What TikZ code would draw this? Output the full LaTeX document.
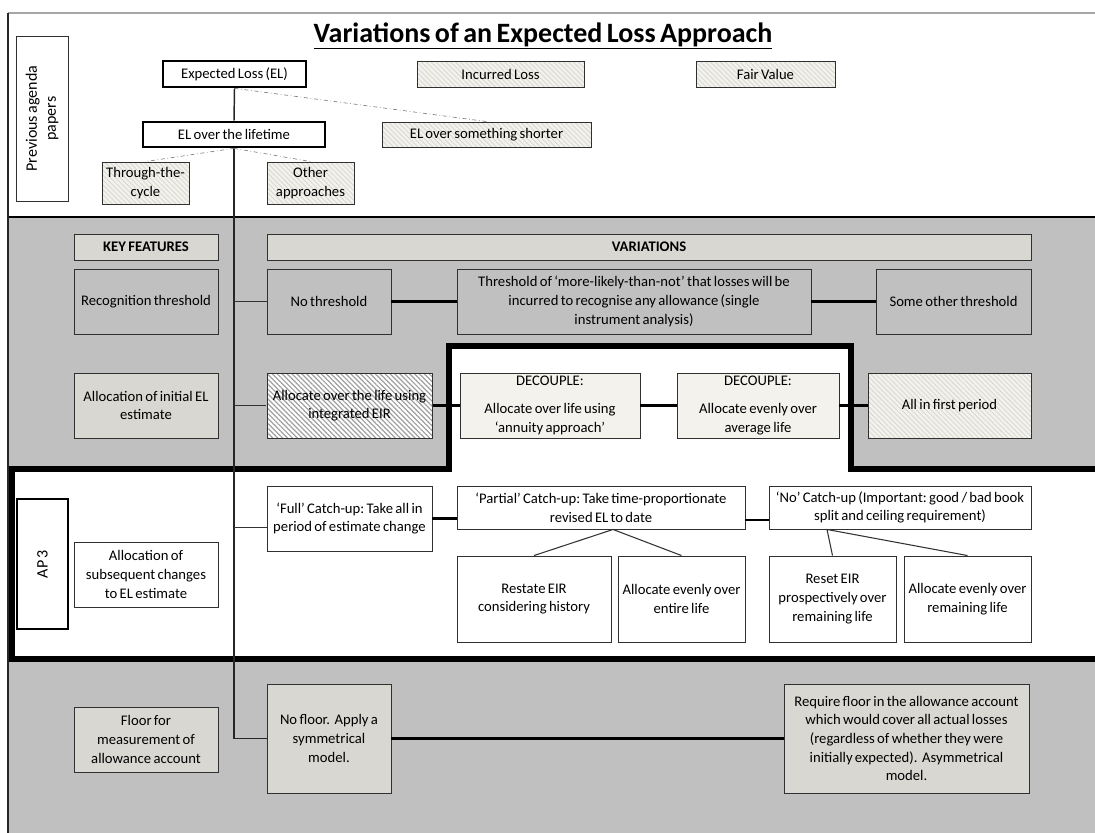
\documentclass[tikz,border=0pt]{standalone}
\usepackage{fontspec}
\setmainfont{Carlito}[WordSpace=0.7]
\usetikzlibrary{positioning,patterns.meta,calc}
\definecolor{bandGray}{HTML}{C0C0C0}
\definecolor{cardFill}{HTML}{D8D7D2}
\definecolor{hatchBack}{HTML}{F3F2ED}
\definecolor{hatchLine}{HTML}{DAD9D3}
\definecolor{edgeGray}{HTML}{303030}

\begin{document}
\begin{tikzpicture}[x=0.75pt, y=-0.75pt,
    baseBox/.style={rectangle, draw=edgeGray, line width=0.7pt, align=center, inner xsep=1pt, inner ysep=2pt, font=\fontsize{11}{14}\selectfont\frenchspacing},
    cardBox/.style={baseBox, fill=cardFill},
    greyBox/.style={baseBox, fill=bandGray},
    whiteBox/.style={baseBox, fill=white},
    hatchBox/.style={baseBox, preaction={fill=hatchBack}, pattern={Lines[angle=-45, distance=2.6pt, line width=0.7pt]}, pattern color=hatchLine},
    denseHatch/.style={baseBox, preaction={fill=white}, pattern={Lines[angle=-45, distance=2.6pt, line width=0.9pt]}, pattern color=gray!75},
    heavyBox/.style={whiteBox, draw=black, line width=2pt},
    spineLine/.style={draw=black!85, line width=1.1pt},
    branchLine/.style={draw=black!80, line width=0.8pt},
    linkLine/.style={draw=black, line width=1.6pt},
    optLine/.style={draw=gray, line width=0.5pt, dash dot}
]
    \useasboundingbox (0,0) rectangle (1095,832);
    \clip (0,0) rectangle (1095,832);

    % Bands
    \fill[bandGray] (8,217) rectangle (1110,469);
    \fill[bandGray] (8,659) rectangle (1110,840);
    \draw[line width=4.5pt, fill=white] (12,469) -- (449,469) -- (449,346) -- (851,346) -- (851,469) -- (1110,469) -- (1110,659) -- (12,659) -- cycle;
    \draw[line width=2.2pt] (8,217) -- (1110,217);
    \draw[gray!70, line width=0.8pt] (8,13) -- (1110,13);
    \draw[black!85, line width=0.8pt] (8,13) -- (8,840);

    \node (title) at (543,36) {\fontsize{21}{24}\selectfont\bfseries\underline{Variations of an Expected Loss Approach}};

    % Previous agenda papers
    \node[whiteBox, rotate=90, minimum width=123.75pt, minimum height=39pt, font=\fontsize{12}{14.25}\selectfont] (prevPapers) at (42,118.5) {Previous agenda\\papers};
    \node[heavyBox, minimum width=107.25pt, minimum height=19.5pt] (elNode) at (234.5,74) {Expected Loss (EL)};
    \node[hatchBox, minimum width=125.25pt, minimum height=19.5pt] (incurred) at (500.5,74) {Incurred Loss};
    \node[hatchBox, minimum width=104.25pt, minimum height=19.5pt] (fairValue) at (765.5,74) {Fair Value};
    \node[heavyBox, minimum width=136.5pt, minimum height=18.75pt] (lifetime) at (234,134.5) {EL over the lifetime};
    \node[hatchBox, minimum width=156.75pt, minimum height=18.75pt] (shorter) at (486.5,134.5) {EL over something shorter};
    \node[hatchBox, minimum width=65.25pt, minimum height=31.5pt] (cycle) at (145.5,183) {Through-the-\\cycle};
    \node[hatchBox, minimum width=65.25pt, minimum height=31.5pt] (otherAppr) at (310.5,183) {Other\\approaches};

    % Key features and variations
    \node[cardBox, minimum width=108pt, minimum height=19.5pt, font=\fontsize{11}{14}\selectfont\bfseries] (keyFeat) at (146,247) {KEY FEATURES};
    \node[cardBox, minimum width=573pt, minimum height=19.5pt, font=\fontsize{11}{14}\selectfont\bfseries] (variations) at (649,247) {VARIATIONS};

    \node[greyBox, minimum width=108pt, minimum height=48.75pt] (recog) at (146,301.5) {Recognition threshold};
    \node[greyBox, minimum width=93pt, minimum height=48.75pt] (noThresh) at (329,301.5) {No threshold};
    \node[greyBox, minimum width=265.5pt, minimum height=48.75pt] (mltn) at (634,301.5) {Threshold of `more-likely-than-not' that losses will be\\incurred to recognise any allowance (single\\instrument analysis)};
    \node[greyBox, minimum width=116.25pt, minimum height=48.75pt] (otherThresh) at (953.5,301.5) {Some other threshold};

    \node[cardBox, minimum width=108pt, minimum height=48.75pt] (allocInit) at (146,405.5) {Allocation of initial EL\\estimate};
    \node[denseHatch, minimum width=123.75pt, minimum height=48.75pt, inner xsep=0pt] (integEIR) at (349.5,405.5) {Allocate over the life using\\integrated EIR};
    \node[cardBox, fill=hatchBack, minimum width=135pt, minimum height=48.75pt] (annuity) at (550,405.5) {DECOUPLE:\\[7pt]Allocate over life using\\`annuity approach'};
    \node[cardBox, fill=hatchBack, minimum width=121.5pt, minimum height=48.75pt] (evenAvg) at (758,405.5) {DECOUPLE:\\[7pt]Allocate evenly over\\average life};
    \node[hatchBox, minimum width=122.25pt, minimum height=48.75pt] (firstPeriod) at (949.5,405.5) {All in first period};

    % AP 3
    \node[heavyBox, rotate=90, minimum width=97.5pt, minimum height=38.25pt, font=\fontsize{12}{14.25}\selectfont] (apThree) at (42.5,564) {AP 3};
    \node[whiteBox, minimum width=108pt, minimum height=48.75pt] (allocSub) at (146,574.5) {Allocation of\\subsequent changes\\to EL estimate};
    \node[whiteBox, minimum width=123.75pt, minimum height=48.75pt] (fullCatch) at (349.5,518.5) {`Full' Catch-up: Take all in\\period of estimate change};
    \node[whiteBox, minimum width=216pt, minimum height=32.25pt] (partial) at (601,507.5) {`Partial' Catch-up: Take time-proportionate\\revised EL to date};
    \node[whiteBox, minimum width=196.5pt, minimum height=32.25pt] (noCatch) at (900,507.5) {`No' Catch-up (Important: good / bad book\\split and ceiling requirement)};
    \node[whiteBox, minimum width=115.5pt, minimum height=64.5pt] (restate) at (534,599) {Restate EIR\\considering history};
    \node[whiteBox, minimum width=95.25pt, minimum height=64.5pt] (evenEntire) at (681.5,599) {Allocate evenly over\\entire life};
    \node[whiteBox, minimum width=95.25pt, minimum height=64.5pt] (resetEIR) at (832.5,599) {Reset EIR\\prospectively over\\remaining life};
    \node[whiteBox, minimum width=95.25pt, minimum height=64.5pt] (evenRemain) at (967.5,599) {Allocate evenly over\\remaining life};

    % Floor
    \node[cardBox, minimum width=108pt, minimum height=48.75pt] (floorFeat) at (146,739.5) {Floor for\\measurement of\\allowance account};
    \node[cardBox, minimum width=93pt, minimum height=81.75pt] (noFloor) at (329,738.5) {No floor.~ Apply a\\symmetrical\\model.};
    \node[cardBox, minimum width=183.75pt, minimum height=81.75pt] (reqFloor) at (906.5,738.5) {Require floor in the allowance account\\which would cover all actual losses\\(regardless of whether they were\\initially expected).~ Asymmetrical\\model.};

    % Connectors
    \coordinate (fullJoin) at ([yshift=-7pt]fullCatch.west);
    \coordinate (partialJoin) at ([yshift=-9.4pt]partial.east);
    \coordinate (partialFork) at ([xshift=9pt]partial.south);
    \coordinate (noFork) at ([xshift=-54.75pt]noCatch.south);

    \draw[spineLine] (elNode.south) -- (lifetime.north);
    \draw[spineLine] (lifetime.south) |- (noFloor.west);
    \draw[optLine] (elNode.south) -- (shorter.north);
    \draw[optLine] (lifetime.south) -- (cycle.north);
    \draw[optLine] (lifetime.south) -- (otherAppr.north);

    \draw[branchLine] (lifetime.south |- noThresh.west) -- (noThresh.west);
    \draw[branchLine] (lifetime.south |- integEIR.west) -- (integEIR.west);
    \draw[branchLine] (lifetime.south |- fullJoin) -- (fullJoin);

    \draw[linkLine] (noThresh) -- (mltn);
    \draw[linkLine] (mltn) -- (otherThresh);
    \draw[linkLine] (integEIR) -- (annuity);
    \draw[linkLine] (annuity) -- (evenAvg);
    \draw[linkLine] (evenAvg) -- (firstPeriod);
    \draw[linkLine] (fullCatch.east) -- (fullCatch.east -| partial.west);
    \draw[linkLine] (partialJoin) -- (partialJoin -| noCatch.west);
    \draw[linkLine] (noFloor) -- (reqFloor);

    \draw[branchLine] (restate.north) -- (partialFork) -- (evenEntire.north);
    \draw[branchLine] (resetEIR.north) -- (noFork) -- (evenRemain.north);
\end{tikzpicture}
\end{document}
